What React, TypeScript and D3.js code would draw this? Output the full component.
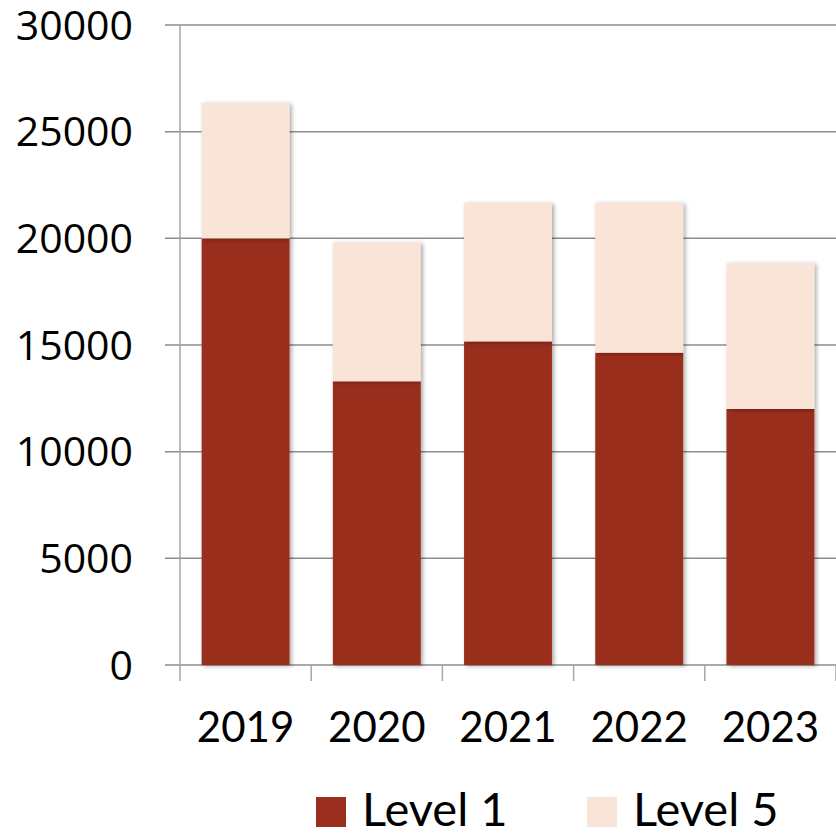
import React from "react";
import * as d3 from "d3";

const years = ["2019", "2020", "2021", "2022", "2023"];
const level1 = [20000, 13300, 15170, 14640, 12000];
const level5 = [6350, 6500, 6480, 7030, 6830];
const yTicks = [0, 5000, 10000, 15000, 20000, 25000, 30000];
const seriesNames = ["Level 1", "Level 5"];
const colors = ["#9A2F1F", "#FAE4D7"];

export default function App() {
  const W = 836, H = 833;
  const left = 180, right = 836, top = 25, bottom = 665;
  const x = d3.scaleBand<string>().domain(years).range([left, right]).paddingInner(0.33).paddingOuter(0.165);
  const y = d3.scaleLinear().domain([0, 30000]).range([bottom, top]);
  const rows = years.map((yr, i) => ({ year: yr, l1: level1[i], l5: level5[i] }));
  const stack = d3.stack<any>().keys(["l1", "l5"])(rows);
  const step = x.step();
  const boundaries = d3.range(years.length + 1).map(i => left + i * step);

  return (
    <svg width={W} height={H} style={{ position: "absolute", left: 0, top: 0, background: "#fff" }}>
      <defs>
        <filter id="sh" x="-20%" y="-20%" width="140%" height="140%">
          <feDropShadow dx="2" dy="1" stdDeviation="2" floodColor="#000" floodOpacity="0.35" />
        </filter>
      </defs>
      {yTicks.map(t => (
        <line key={t} x1={165} x2={right} y1={y(t)} y2={y(t)} stroke="#8c8c8c" strokeWidth={1.5} />
      ))}
      <line x1={left} x2={left} y1={top} y2={bottom + 16} stroke="#a6a6a6" strokeWidth={1.5} />
      {boundaries.slice(1).map((b, i) => (
        <line key={i} x1={b} x2={b} y1={bottom} y2={bottom + 16} stroke="#a6a6a6" strokeWidth={1.5} />
      ))}
      {stack.map((s, si) => (
        <g key={si}>
          {s.map((d, i) => (
            <rect key={i} x={x(years[i])} width={x.bandwidth()} y={y(d[1])} height={y(d[0]) - y(d[1])}
              fill={colors[si]} filter="url(#sh)" />
          ))}
        </g>
      ))}
      {yTicks.map(t => (
        <text key={t} x={133} y={y(t)} dy="0.36em" textAnchor="end" fontFamily="Open Sans" fontSize={41} fill="#000">
          {t}
        </text>
      ))}
      {years.map(yr => (
        <text key={yr} x={(x(yr) as number) + x.bandwidth() / 2} y={742} textAnchor="middle" fontFamily="Lato" fontSize={42} fill="#000">
          {yr}
        </text>
      ))}
      {seriesNames.map((n, i) => {
        const lx = [316, 587][i];
        return (
          <g key={n}>
            <rect x={lx} y={797} width={30} height={30} fill={colors[i]} />
            <text x={lx + 46} y={826} fontFamily="Lato" fontSize={47} fill="#000">{n}</text>
          </g>
        );
      })}
    </svg>
  );
}
